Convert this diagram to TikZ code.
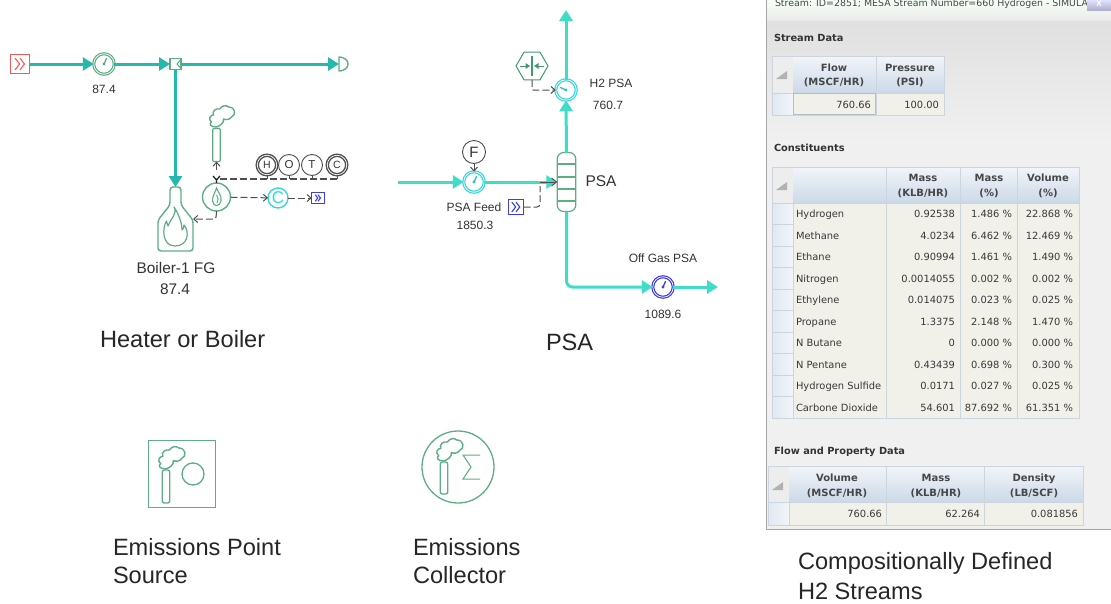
\documentclass[tikz,border=0pt]{standalone}
\usepackage{fontspec}
\setmainfont{Liberation Sans}
\newfontfamily\ui{DejaVu Sans}
\usetikzlibrary{arrows.meta,shapes.geometric,positioning}
\definecolor{eqgreen}{HTML}{5DAE85}
\definecolor{darkgreen}{HTML}{3F9A6C}
\definecolor{teal1}{HTML}{25B8AC}
\definecolor{turq}{HTML}{3FDDC8}
\definecolor{cyan1}{HTML}{35D6E0}
\definecolor{blue1}{HTML}{3C3CF0}
\definecolor{red1}{HTML}{F55A5A}
\definecolor{dashgray}{HTML}{4F4F4F}
\definecolor{panel}{HTML}{ECECEC}
\definecolor{cellbg}{HTML}{F1F1EA}
\definecolor{gridc}{HTML}{CBD5DF}
\definecolor{headtop}{HTML}{F2F5F9}
\definecolor{headbot}{HTML}{CBD9E8}
\definecolor{txt}{HTML}{333333}
\tikzset{
  x=1pt,y=-1pt,
  every node/.style={inner sep=0pt,outer sep=0pt,text=txt},
  tealflow/.style={draw=teal1,line width=3pt,-{Triangle[length=11pt,width=13pt]}},
  turqflow/.style={draw=turq,line width=3pt,-{Triangle[length=11pt,width=13pt]}},
  signal/.style={draw=dashgray,line width=1pt,dash pattern=on 7pt off 3pt,-{Straight Barb[length=4pt,width=7pt]}},
  sigline/.style={draw=dashgray,line width=1pt,dash pattern=on 7pt off 3pt},
  gaugebase/.style={circle,minimum size=20.5pt,fill=white,double,double distance=0.7pt,line width=1.2pt},
  ggreen/.style={gaugebase,draw=eqgreen},
  gcyan/.style={gaugebase,draw=cyan1},
  gblue/.style={gaugebase,draw=blue1},
  icon/.style={draw=eqgreen,line width=1.4pt,line join=round},
  instr/.style={circle,minimum size=21pt,draw=dashgray,fill=white,line width=0.9pt,font=\fontsize{12}{12}\selectfont},
  instrh/.style={circle,minimum size=19.5pt,fill=white,draw=dashgray,double,double distance=0.7pt,line width=1.4pt,font=\fontsize{10.5}{10.5}\selectfont},
  chevbox/.style={rectangle,fill=white,line width=1.2pt},
  small/.style={font=\fontsize{12}{12}\selectfont},
  title/.style={anchor=west,font=\fontsize{23.6}{28}\selectfont,text=black!85},
  uitxt/.style={font=\ui\fontsize{9.9}{11}\selectfont,text=black!78},
  uihead/.style={font=\ui\bfseries\fontsize{10}{14.5}\selectfont,align=center,text=black!72},
  uisec/.style={anchor=west,font=\ui\bfseries\fontsize{9.8}{11}\selectfont,text=black!80},
  cellr/.style={uitxt,anchor=base east},
  celll/.style={uitxt,anchor=base west},
}
% cloud-and-stack outline: origin at the stack top, #1 x, #2 y, #3 scale
\newcommand{\cloudshape}[3]{%
  \begin{scope}[shift={(#1,#2)},scale=#3]
  \draw[icon,fill=white] (0,-1) .. controls (-6,-1) and (-8,-4) .. (-5,-6)
    .. controls (-9,-9) and (-6,-13) .. (-3,-13)
    .. controls (-5,-17) and (0,-20) .. (3,-19)
    .. controls (6,-23) and (10,-23) .. (12,-21)
    .. controls (19,-21) and (20,-13) .. (15,-11)
    .. controls (13,-8) and (9,-8) .. (7,-9)
    .. controls (8,-5) and (3,-2) .. (0,-1) -- cycle;
  \end{scope}}
% gauge needle from the centre of a named gauge
\newcommand{\needle}[4]{%
  \fill[#4] (#1.center) circle (1.6pt);
  \draw[#4,line width=1.3pt,line cap=round] (#1.center) -- ++(#2,#3);}
\newcommand{\chev}[4]{% centre x,y half size, colour
  \draw[#4,line width=1.1pt] (#1-#3*0.55,#2-#3*0.65) -- (#1-#3*0.05,#2) -- (#1-#3*0.55,#2+#3*0.65)
   (#1+#3*0.0,#2-#3*0.65) -- (#1+#3*0.5,#2) -- (#1+#3*0.0,#2+#3*0.65);}
\begin{document}
\begin{tikzpicture}
\useasboundingbox (0,0) rectangle (1111,603);
\fill[white] (0,0) rectangle (1111,603);

%%%%%%%% Boiler diagram
\node[chevbox,draw=red1,minimum size=18.5pt] (src) at (20,64) {};
\chev{20}{64}{9}{red1}
\node[ggreen] (g1) at (104,64) {};
\needle{g1}{2.5}{-5.5}{eqgreen}
\node[small] (g1v) at (104,89) {87.4};
\node[rectangle,draw=eqgreen,fill=white,line width=1.2pt,minimum size=11pt] (junc) at (175.5,64) {};
\draw[eqgreen,line width=1pt] (180.5,60) -- (177,64) -- (180.5,68);
\coordinate (dend) at (339,64);
\draw[icon] (339,57) -- (339,71) arc[start angle=90,end angle=-90,x radius=9,y radius=7] -- cycle;
\draw[tealflow] (src) -- (g1);
\draw[tealflow] (g1) -- (junc);
\draw[tealflow] (junc) -- (dend);
% boiler shape
\coordinate (boiltop) at (175.5,187);
\draw[icon,rounded corners=3pt] (170,187) -- (181,187) -- (181,205) -- (193,220) -- (193,251) -- (158,251) -- (158,220) -- (170,205) -- cycle;
\draw[icon,line width=1.2pt] (174,207) .. controls (178,214) and (170,219) .. (168,226)
  .. controls (167,224) and (167,222) .. (166.5,221)
  .. controls (162,228) and (162,246) .. (175,246)
  .. controls (188,246) and (190,232) .. (184,225)
  .. controls (184,228) and (183,229) .. (182,230)
  .. controls (182,222) and (178,213) .. (174,207) -- cycle;
\draw[tealflow] (junc) -- (boiltop);
\node[font=\fontsize{15.4}{16}\selectfont] (boilname) at (176,268) {Boiler-1 FG};
\node[font=\fontsize{15.4}{16}\selectfont] (boilval) at (175,289) {87.4};
% burner
\node[circle,draw=eqgreen,fill=white,line width=1.4pt,minimum size=28pt] (burner) at (216.5,197) {};
\draw[eqgreen,line width=1.1pt] (216.5,188) .. controls (218,192) and (222,196) .. (221,201)
  .. controls (220,207) and (213,207) .. (212.5,201) .. controls (212,197) and (215,193) .. (216.5,188) -- cycle;
\draw[eqgreen,line width=1pt] (216.5,195) .. controls (218,198) and (219,201) .. (217,203);
% stack
\cloudshape{216.5}{128}{1}
\node[rectangle,draw=eqgreen,fill=white,line width=1.4pt,minimum width=7.5pt,minimum height=33pt,rounded corners=1pt] (stack) at (216.5,145) {};
% HOTC
\node[instrh] (iH) at (267,165) {H};
\node[instr,font=\fontsize{11.5}{11.5}\selectfont] (iO) at (289,165) {O};
\node[instr,font=\fontsize{11.5}{11.5}\selectfont] (iT) at (312,165) {T};
\node[instrh] (iC) at (337,165) {C};
\coordinate (busL) at (216.5,179);
\coordinate (busH) at (267,179);
\coordinate (busO) at (289,179);
\coordinate (busT) at (312,179);
\coordinate (busC) at (337,179);
\draw[sigline,line width=1.3pt] (busC) -- (busL);
\foreach \a/\b in {iH/busH,iO/busO,iT/busT,iC/busC}{\draw[draw=dashgray,line width=1pt] (\a) -- (\b);}
\draw[black!85,line width=1.3pt] (213,176) -- (216.5,180) -- (220,176) (216.5,180) -- (216.5,183);
\draw[draw=dashgray,line width=1pt,-{Straight Barb[length=4pt,width=7pt]}] (216.5,170) -- (stack.south);
% signals
\node[circle,draw=cyan1,fill=white,line width=1.4pt,minimum size=20pt,text=cyan1,font=\fontsize{17}{17}\selectfont] (cc) at (278,198) {C};
\node[chevbox,draw=blue1,minimum width=12.5pt,minimum height=11pt] (outbox) at (318,198) {};
\chev{318}{198}{5}{blue1}
\draw[signal] (burner) -- (cc);
\draw[signal] (cc) -- (outbox);
\coordinate (brk) at (216,219);
\coordinate (boilr) at (193,219);
\draw[signal,rounded corners=2pt] (burner.south) -- (brk) -- (boilr);

%%%%%%%% PSA diagram
\node[gcyan] (gH) at (566,90) {};
\needle{gH}{-5.5}{-2.5}{teal1!70!cyan1}
\coordinate (toptip) at (566,10);
\node[regular polygon,regular polygon sides=6,draw=darkgreen,fill=white,line width=1pt,minimum size=32pt] (hex) at (532,66) {};
\draw[darkgreen,line width=1.8pt] (532,56) -- (532,76);
\draw[darkgreen,line width=1pt] (520,66) -- (526,66) (544,66) -- (538,66);
\fill[darkgreen] (530,66) -- (525.5,63) -- (525.5,69) -- cycle (534,66) -- (538.5,63) -- (538.5,69) -- cycle;
\node[small] (h2n) at (611,83) {H2 PSA};
\node[small] (h2v) at (608,105) {760.7};
\node[rectangle,rounded corners=6.5pt,draw=eqgreen,fill=white,line width=1.2pt,minimum width=18.5pt,minimum height=59pt] (col) at (566.5,182) {};
\foreach \yy in {164,177,189,201}{\draw[eqgreen,line width=1.1pt] (557.5,\yy) -- (575.5,\yy);}
\node[font=\fontsize{15.5}{16}\selectfont] (psan) at (601,181) {PSA};
\coordinate (feedstart) at (398,182);
\node[gcyan] (gF) at (474,182) {};
\needle{gF}{2.5}{-5.5}{teal1!70!cyan1}
\node[instr,minimum size=23pt,font=\fontsize{15}{15}\selectfont] (F) at (474,152) {F};
\draw[draw=dashgray,line width=1pt,-{Straight Barb[length=4pt,width=7pt]}] (F) -- (gF);
\draw[turqflow] (feedstart) -- (gF);
\draw[turqflow] (gF) -- (col.west);
\coordinate (fsig) at (540,182);
\draw[draw=dashgray,line width=0.9pt,-{Straight Barb[length=5pt,width=8pt]}] (fsig) -- (col.west);
\draw[turqflow] (col.north) -- (gH.south);
\draw[turqflow] (gH) -- (toptip);
\node[chevbox,draw=blue1,minimum size=15pt] (fbox) at (516,207) {};
\chev{516}{207}{7.5}{blue1}
\coordinate (fbend) at (540,207);
\coordinate (fup) at (540,186);
\draw[sigline,rounded corners=3pt] (fbox) -- (fbend) -- (fup);
\coordinate (hexd) at (532,90);
\draw[signal,rounded corners=1pt] (hex) -- (hexd) -- (gH);
\node[font=\fontsize{12}{12}\selectfont] (fn) at (474,207) {PSA Feed};
\node[font=\fontsize{12}{12}\selectfont] (fv) at (475,225) {1850.3};
\node[gblue] (gO) at (663,287) {};
\needle{gO}{2.5}{-5.5}{blue1}
\coordinate (ogbend) at (566.5,287);
\coordinate (ogtip) at (718,287);
\draw[turqflow,rounded corners=6pt] (col.south) -- (ogbend) -- (gO);
\draw[turqflow] (gO) -- (ogtip);
\node[font=\fontsize{12}{12}\selectfont] (on) at (663,258) {Off Gas PSA};
\node[font=\fontsize{12}{12}\selectfont] (ov) at (663,314) {1089.6};

%%%%%%%% Titles
\node[title] (t1) at (100,339) {Heater or Boiler};
\node[title] (t2) at (546,342) {PSA};
\node[title] (t3a) at (113,547) {Emissions Point};
\node[title] (t3b) at (113,575) {Source};
\node[title] (t4a) at (413,547) {Emissions};
\node[title] (t4b) at (413,575) {Collector};
\node[title] (t5a) at (798,563) {Compositionally Defined};
\node[title] (t5b) at (798,591) {H2 Streams};

%%%%%%%% Emission icons
\node[rectangle,draw=eqgreen,line width=1.6pt,minimum size=67pt] (ep) at (182,474) {};
\node[circle,draw=eqgreen,line width=1.3pt,minimum size=22pt] (epc) at (193,474) {};
\cloudshape{166}{470}{1.05}
\node[rectangle,draw=eqgreen,fill=white,line width=1.3pt,minimum width=7.5pt,minimum height=33pt,rounded corners=2pt] (eps) at (166,486.5) {};
\node[circle,draw=eqgreen,line width=1.3pt,minimum size=72pt] (ec) at (458,467) {};
\cloudshape{444}{462}{1.05}
\node[rectangle,draw=eqgreen,fill=white,line width=1.3pt,minimum width=7.5pt,minimum height=32pt,rounded corners=2pt] (ecs) at (444,478) {};
\draw[eqgreen,line width=1pt,line join=miter] (480,455) -- (463,455) -- (471,467) -- (463,479) -- (480,479);

%%%%%%%% Panel
\shade[top color=black!12,bottom color=black!6] (766,20) rectangle (1111,140);
\fill[black!6] (766,140) rectangle (1111,529);
\draw[black!35,line width=0.8pt] (1111,529) -- (766,529) -- (766,0);
\shade[top color=green!3!white,bottom color=green!4!black!8] (767,0) rectangle (1111,20);
\node[anchor=west,font=\ui\fontsize{9.4}{10}\selectfont,text=black!72] (stitle) at (775,4) {Stream: ID=2851; MESA Stream Number=660 Hydrogen - SIMULA};
\shade[top color=white!60!blue!30,bottom color=blue!25!gray!50] (1087,0) rectangle (1111,10);
\node[font=\bfseries\fontsize{8}{8}\selectfont,text=white] (xbtn) at (1099,4) {X};

\node[uisec] (sec1) at (774,38) {Stream Data};
\node[uisec] (sec2) at (774,148) {Constituents};
\node[uisec] (sec3) at (774,452) {Flow and Property Data};

% table 1
\fill[cellbg] (772,56) rectangle (944,115);
\fill[black!7] (772,56) rectangle (793,93);
\shade[top color=headtop,bottom color=headbot] (793,56) rectangle (944,93);
\shade[left color=headbot!60,right color=headtop] (772,93) rectangle (793,115);
\fill[black!30] (776,79) -- (787,71) -- (787,79) -- cycle;
\draw[gridc,line width=0.8pt] (772,56) rectangle (944,115) (793,93) -- (793,115) (876,56) -- (876,115) (772,93) -- (944,93);
\draw[black!18!cyan!25!gray!60,line width=0.9pt] (793.5,93.5) rectangle (875.5,114.5);
\node[uihead] (h11) at (834,75.5) {Flow\\(MSCF/HR)};
\node[uihead] (h12) at (910,75.5) {Pressure\\(PSI)};
\node[cellr] (c11) at (871,108) {760.66};
\node[cellr] (c12) at (939,108) {100.00};

% table 2
\fill[cellbg] (772,167) rectangle (1079,418);
\fill[black!7] (772,167) rectangle (793,203);
\shade[top color=headtop,bottom color=headbot] (793,167) rectangle (1079,203);
\fill[black!30] (776,190) -- (787,182) -- (787,190) -- cycle;
\foreach \r in {0,...,9}{
  \shade[left color=headbot!60,right color=headtop] (772,203+\r*21.5) rectangle (793,224.5+\r*21.5);
  \draw[gridc,line width=0.6pt] (772,203+\r*21.5) -- (793,203+\r*21.5);
}
\draw[gridc,line width=0.8pt] (772,167) rectangle (1079,418) (793,203) -- (793,418) (886,167) -- (886,418) (960,167) -- (960,418) (1017,167) -- (1017,418) (772,203) -- (1079,203);
\node[uihead] (h21) at (923,186) {Mass\\(KLB/HR)};
\node[uihead] (h22) at (989,186) {Mass\\(\%)};
\node[uihead] (h23) at (1048,186) {Volume\\(\%)};
\foreach \r/\nm/\ma/\mp/\vp in {0/Hydrogen/0.92538/1.486 \%/22.868 \%,
  1/Methane/4.0234/6.462 \%/12.469 \%,
  2/Ethane/0.90994/1.461 \%/1.490 \%,
  3/Nitrogen/0.0014055/0.002 \%/0.002 \%,
  4/Ethylene/0.014075/0.023 \%/0.025 \%,
  5/Propane/1.3375/2.148 \%/1.470 \%,
  6/N Butane/0/0.000 \%/0.000 \%,
  7/N Pentane/0.43439/0.698 \%/0.300 \%,
  8/Hydrogen Sulfide/0.0171/0.027 \%/0.025 \%,
  9/Carbone Dioxide/54.601/87.692 \%/61.351 \%}{
  \node[celll] (n\r) at (796,217.8+\r*21.5) {\nm};
  \node[cellr] (m\r) at (955,217.8+\r*21.5) {\ma};
  \node[cellr] (p\r) at (1012,217.8+\r*21.5) {\mp};
  \node[cellr] (v\r) at (1073,217.8+\r*21.5) {\vp};
}

% table 3
\fill[cellbg] (768,466) rectangle (1083,525);
\fill[black!7] (768,466) rectangle (789,502);
\shade[top color=headtop,bottom color=headbot] (789,466) rectangle (1083,502);
\shade[left color=headbot!60,right color=headtop] (768,502) rectangle (789,525);
\fill[black!30] (772,490) -- (783,482) -- (783,490) -- cycle;
\draw[gridc,line width=0.8pt] (768,466) rectangle (1083,525) (789,502) -- (789,525) (886,466) -- (886,525) (984,466) -- (984,525) (768,502) -- (1083,502);
\node[uihead] (h31) at (837,486) {Volume\\(MSCF/HR)};
\node[uihead] (h32) at (936,486) {Mass\\(KLB/HR)};
\node[uihead] (h33) at (1034,486) {Density\\(LB/SCF)};
\node[cellr] (c31) at (882,517) {760.66};
\node[cellr] (c32) at (980,517) {62.264};
\node[cellr] (c33) at (1078,517) {0.081856};
\end{tikzpicture}
\end{document}
